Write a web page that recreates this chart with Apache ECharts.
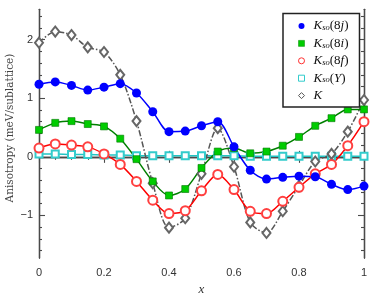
<!DOCTYPE html>
<html>
<head>
<meta charset="utf-8">
<script src="https://cdn.jsdelivr.net/npm/echarts@6/dist/echarts.min.js"></script>
<style>html,body{margin:0;padding:0;background:#fff}#c{width:374px;height:301px}</style>
</head>
<body>
<div id="c"></div>
<script>
var xs = [0,0.05,0.1,0.15,0.2,0.25,0.3,0.35,0.4,0.45,0.5,0.55,0.6,0.65,0.7,0.75,0.8,0.85,0.9,0.95,1.0];
var k8j = [1.24,1.28,1.22,1.14,1.19,1.25,1.09,0.77,0.43,0.44,0.53,0.60,0.17,-0.23,-0.38,-0.35,-0.33,-0.34,-0.47,-0.56,-0.50];
var k8i = [0.46,0.58,0.61,0.56,0.52,0.31,-0.04,-0.42,-0.66,-0.55,-0.19,0.09,0.15,0.06,0.09,0.19,0.34,0.53,0.66,0.81,0.81];
var k8f = [0.15,0.22,0.20,0.17,0.05,-0.13,-0.42,-0.74,-0.97,-0.92,-0.58,-0.30,-0.56,-0.93,-0.97,-0.76,-0.52,-0.29,-0.13,0.19,0.60];
var kY  = [0.05,0.05,0.04,0.04,0.03,0.03,0.02,0.02,0.02,0.02,0.02,0.02,0.02,0.01,0.01,0.01,0.01,0.01,0.01,0.01,0.01];
var kTot = [1.95,2.14,2.08,1.87,1.79,1.40,0.61,-0.45,-1.21,-1.05,-0.29,0.49,-0.17,-1.12,-1.30,-0.93,-0.50,-0.08,0.05,0.43,0.97];
var yMajor = [-1,0,1,2];
var yMinor = [-1.6,-1.4,-1.2,-0.8,-0.6,-0.4,-0.2,0.2,0.4,0.6,0.8,1.2,1.4,1.6,1.8,2.2,2.4];

function pairs(v){ return xs.map(function(x,i){ return [x, v[i]]; }); }
var axisColor = '#4a4a4a';
var yMin = -1.73, yMax = 2.52;
function yAx(pos, major, showLabel){
  return {
    type:'value', position:pos, min:yMin, max:yMax,
    axisLine:{show:true, lineStyle:{color:axisColor, width:1.3}},
    axisTick:{show:true, inside:true, length: major?6:3, customValues: major?yMajor:yMinor, lineStyle:{color:axisColor, width:1.1}},
    axisLabel:{show:showLabel, customValues: yMajor, margin:6, fontFamily:'Liberation Sans', fontSize:11, color:'#333',
      formatter:function(v){ return String(Math.round(v)).replace('-', '\u2212'); }},
    splitLine:{show:false}
  };
}
function xAx(pos, showLabel){
  return {
    type:'value', position:pos, min:0, max:1, interval:0.2,
    axisLine:{show:true, lineStyle:{color:axisColor, width:1.3}},
    axisTick:{show:true, inside:true, length:6, lineStyle:{color:axisColor, width:1.1}},
    minorTick:{show:true, splitNumber:4, length:3, lineStyle:{color:axisColor, width:1.1}},
    axisLabel:{show:showLabel, margin:9, fontFamily:'Liberation Sans', fontSize:11, color:'#333',
      formatter:function(v){ return String(+v.toFixed(1)); }},
    splitLine:{show:false},
    name: showLabel ? 'x' : '', nameLocation:'middle', nameGap:23,
    nameTextStyle:{fontFamily:'Liberation Serif', fontStyle:'italic', fontSize:13, color:'#333'}
  };
}
var richLeg = {
  k:{fontFamily:'Liberation Serif', fontStyle:'italic', fontSize:13, color:'#111', lineHeight:13, padding:[0,0,0,4]},
  s:{fontFamily:'Liberation Serif', fontStyle:'italic', fontSize:8.5, color:'#111', verticalAlign:'bottom', lineHeight:8},
  n:{fontFamily:'Liberation Serif', fontSize:13, color:'#111', lineHeight:13},
  i:{fontFamily:'Liberation Serif', fontStyle:'italic', fontSize:13, color:'#111', lineHeight:13}
};
var legText = {
  '8j':'{k|K}{s|so}{n|(8}{i|j}{n|)}',
  '8i':'{k|K}{s|so}{n|(8}{i|i}{n|)}',
  '8f':'{k|K}{s|so}{n|(8}{i|f}{n|)}',
  'Y':'{k|K}{s|so}{n|(}{i|Y}{n|)}',
  'K':'{k|K}'
};
var chart = echarts.init(document.getElementById('c'), null, {renderer:'canvas'});
chart.setOption({
  animation:false,
  grid:{left:39, right:10, top:9.3, bottom:29.3},
  xAxis:[xAx('bottom', true), xAx('top', false)],
  yAxis:[yAx('left', true, true), yAx('left', false, false), yAx('right', true, false), yAx('right', false, false)],
  legend:{
    orient:'vertical', left:283, top:13.5, padding:[6,11,5,15], itemGap:4.4,
    itemWidth:6, itemHeight:6,
    backgroundColor:'#fff', borderColor:'#222', borderWidth:1.5,
    formatter:function(n){ return legText[n]; },
    textStyle:{rich:richLeg},
    data:[
      {name:'8j', icon:'circle', itemStyle:{color:'#0000ff', borderWidth:0}},
      {name:'8i', icon:'rect', itemStyle:{color:'#00cc00', borderColor:'#008800', borderWidth:0.5}},
      {name:'8f', icon:'circle', itemStyle:{color:'#fff', borderColor:'#ff3030', borderWidth:1}},
      {name:'Y', icon:'rect', itemStyle:{color:'#fff', borderColor:'#33cccc', borderWidth:1}},
      {name:'K', icon:'diamond', itemStyle:{color:'#fff', borderColor:'#555', borderWidth:1}}
    ]
  },
  graphic:[{type:'text', x:10, y:128, rotation:Math.PI/2,
    style:{text:'Anisotropy (meV/sublattice)', fontFamily:'DejaVu Serif', fontSize:10.5, fill:'#444', textAlign:'center', textVerticalAlign:'middle'}}],
  series:[
    {name:'Y', type:'line', data:pairs(kY), smooth:0.3, symbol:'emptyRect', symbolSize:7,
      lineStyle:{color:'#22c4c4', width:1.5}, itemStyle:{color:'#33cccc', borderWidth:1}},
    {name:'K', type:'line', data:pairs(kTot), smooth:0.3, symbol:'emptyDiamond', symbolSize:[8,10],
      lineStyle:{color:'#555', width:1.5, type:[6,2,1.5,2]}, itemStyle:{color:'#666', borderWidth:1}},
    {name:'8f', type:'line', data:pairs(k8f), smooth:0.3, symbol:'emptyCircle', symbolSize:9,
      lineStyle:{color:'#ff0000', width:1.5}, itemStyle:{color:'#ff4040', borderWidth:1}},
    {name:'8i', type:'line', data:pairs(k8i), smooth:0.3, symbol:'rect', symbolSize:7,
      lineStyle:{color:'#008000', width:1.5}, itemStyle:{color:'#00cc00', borderColor:'#007700', borderWidth:0.6}},
    {name:'8j', type:'line', data:pairs(k8j), smooth:0.3, symbol:'circle', symbolSize:9,
      lineStyle:{color:'#0000ff', width:1.5}, itemStyle:{color:'#0000ff'}}
  ]
});
</script>
</body>
</html>
